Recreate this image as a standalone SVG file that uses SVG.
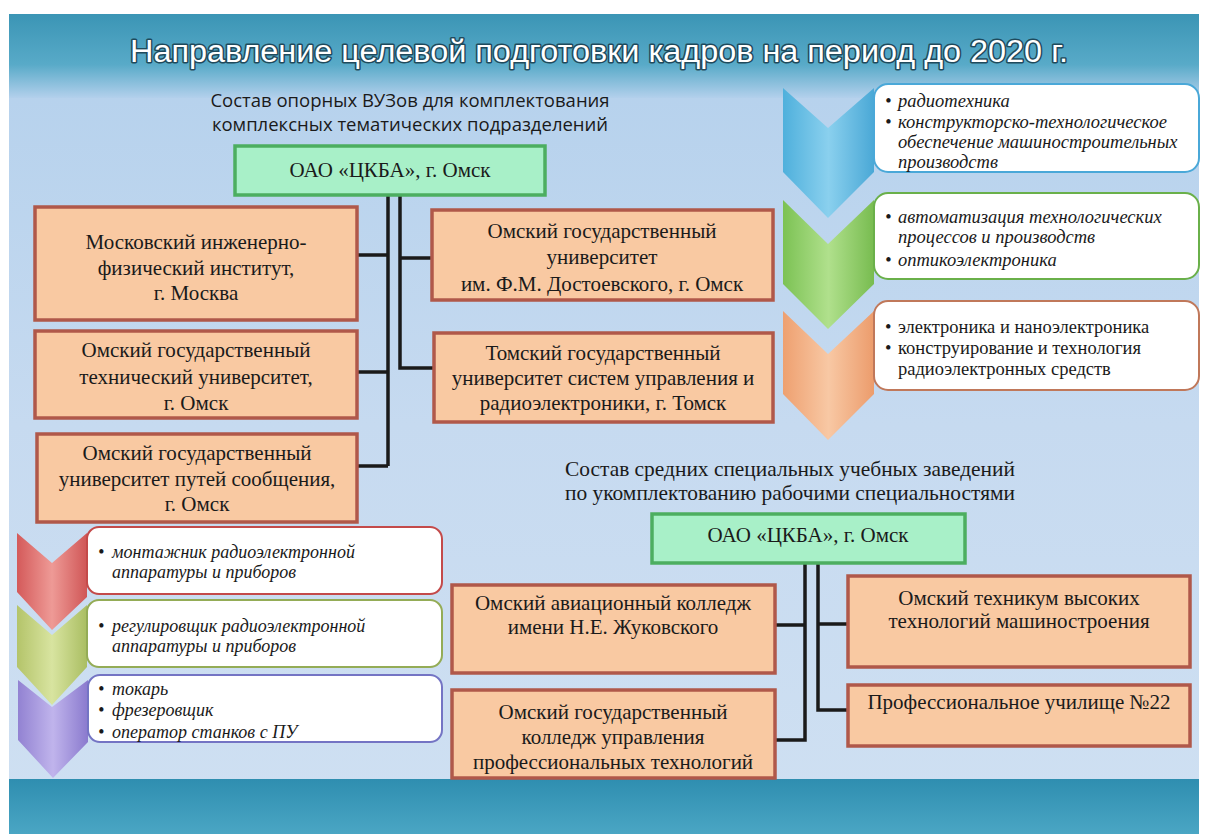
<svg xmlns="http://www.w3.org/2000/svg" width="1208" height="836" viewBox="0 0 1208 836">
<defs>
<linearGradient id="bg" x1="0" y1="0" x2="0" y2="1">
<stop offset="0" stop-color="#b3d0ec"/>
<stop offset="0.5" stop-color="#c6daf0"/>
<stop offset="1" stop-color="#cfe0f2"/>
</linearGradient>
<linearGradient id="top" x1="0" y1="0" x2="0" y2="1">
<stop offset="0" stop-color="#3b95b5"/>
<stop offset="0.6" stop-color="#58aac8"/>
<stop offset="1" stop-color="#b3d0ec"/>
</linearGradient>
<linearGradient id="bot" x1="0" y1="0" x2="0" y2="1">
<stop offset="0" stop-color="#2f8eb0"/>
<stop offset="1" stop-color="#4aa6c4"/>
</linearGradient>
<linearGradient id="cBlue" x1="0" y1="0" x2="1" y2="0"><stop offset="0" stop-color="#4fb0dc"/><stop offset="0.5" stop-color="#8ad0ee"/><stop offset="1" stop-color="#4aa8d6"/></linearGradient>
<linearGradient id="cGreen" x1="0" y1="0" x2="1" y2="0"><stop offset="0" stop-color="#7cc254"/><stop offset="0.5" stop-color="#b0e08c"/><stop offset="1" stop-color="#78bc50"/></linearGradient>
<linearGradient id="cOrange" x1="0" y1="0" x2="1" y2="0"><stop offset="0" stop-color="#eea070"/><stop offset="0.5" stop-color="#f8c8a4"/><stop offset="1" stop-color="#ec9c6c"/></linearGradient>
<linearGradient id="cRed" x1="0" y1="0" x2="1" y2="0"><stop offset="0" stop-color="#d45a5a"/><stop offset="0.5" stop-color="#ee9a96"/><stop offset="1" stop-color="#d05656"/></linearGradient>
<linearGradient id="cYel" x1="0" y1="0" x2="1" y2="0"><stop offset="0" stop-color="#b4c46a"/><stop offset="0.5" stop-color="#d8e4a0"/><stop offset="1" stop-color="#aabe62"/></linearGradient>
<linearGradient id="cPur" x1="0" y1="0" x2="1" y2="0"><stop offset="0" stop-color="#9282d2"/><stop offset="0.5" stop-color="#c0b4ec"/><stop offset="1" stop-color="#8a7ace"/></linearGradient>
</defs>
<style>
.org{fill:#f9c9a2;stroke:#b0584a;stroke-width:3.5}
.grn{fill:#a8f0c8;stroke:#4cae60;stroke-width:3.5}
.t{font-family:"Liberation Serif","Times New Roman",serif;font-size:21px;fill:#1a1a1a;text-anchor:middle}
.s{font-family:"Open Sans","Noto Sans",sans-serif;font-size:18.5px;fill:#1a1a1a;text-anchor:middle}
.it{font-family:"Liberation Serif",serif;font-style:italic;font-size:18.5px;fill:#1a1a1a}
.it2{font-family:"Liberation Serif",serif;font-style:italic;font-size:18px;fill:#1a1a1a}
.rm{font-family:"Liberation Serif",serif;font-size:18.5px;fill:#1a1a1a}
.card{fill:#ffffff;stroke-width:2}
.ln{stroke:#1a1a1a;stroke-width:3.5;fill:none}
.title{font-family:"Liberation Sans",Arial,sans-serif;font-size:31px;fill:#ffffff;stroke:#1f4a5c;stroke-width:3;paint-order:stroke;stroke-linejoin:round}
</style>
<rect x="0" y="0" width="1208" height="836" fill="#ffffff"/>
<rect x="9" y="14" width="1190" height="820" fill="url(#bg)"/>
<rect x="9" y="14" width="1190" height="84" fill="url(#top)"/>
<rect x="9" y="779" width="1190" height="55" fill="url(#bot)"/>
<text class="title" x="130" y="62" textLength="938" lengthAdjust="spacingAndGlyphs">Направление целевой подготовки кадров на период до 2020 г.</text>

<text class="s" x="410" y="107">Состав опорных ВУЗов для комплектования</text>
<text class="s" x="410" y="131">комплексных тематических подразделений</text>

<g id="connectors">
<path class="ln" d="M388,195 V466 M357,255 H388 M357,372 H388 M357,466 H388"/>
<path class="ln" d="M400,195 V368 H434 M400,258 H432"/>
<path class="ln" d="M805,563 V740 H775 M775,625 H805"/>
<path class="ln" d="M818,563 V710 H848 M818,624 H848"/>
</g>

<g id="n-ckba1"><rect class="grn" x="235" y="146" width="310" height="49"/><text class="t" x="390" y="177">ОАО «ЦКБА», г. Омск</text></g>
<g id="n-mifi"><rect class="org" x="35" y="207" width="322" height="113"/><text class="t" x="196" y="249">Московский инженерно-</text><text class="t" x="196" y="275">физический институт,</text><text class="t" x="196" y="300">г. Москва</text></g>
<g id="n-omgtu"><rect class="org" x="35" y="331" width="322" height="87"/><text class="t" x="196" y="357">Омский государственный</text><text class="t" x="196" y="384">технический университет,</text><text class="t" x="196" y="410">г. Омск</text></g>
<g id="n-omgups"><rect class="org" x="37" y="434" width="320" height="88"/><text class="t" x="197" y="460">Омский государственный</text><text class="t" x="197" y="486">университет путей сообщения,</text><text class="t" x="197" y="511">г. Омск</text></g>
<g id="n-omgu"><rect class="org" x="432" y="210" width="341" height="90"/><text class="t" x="602" y="238">Омский государственный</text><text class="t" x="602" y="264">университет</text><text class="t" x="602" y="291">им. Ф.М. Достоевского, г. Омск</text></g>
<g id="n-tusur"><rect class="org" x="434" y="333" width="339" height="89"/><text class="t" x="603" y="360">Томский государственный</text><text class="t" x="603" y="385">университет систем управления и</text><text class="t" x="603" y="410">радиоэлектроники, г. Томск</text></g>

<g id="n-dir3"><path d="M783,311 L828,354 L874,311 L874,394 L828,440 L783,394 Z" fill="url(#cOrange)"/><rect class="card" x="874" y="301" width="325" height="89" rx="14" stroke="#c0785a"/><text class="rm" x="885" y="333">•</text><text class="rm" x="898" y="333">электроника и наноэлектроника</text><text class="rm" x="885" y="354">•</text><text class="rm" x="898" y="354">конструирование и технология</text><text class="rm" x="898" y="375">радиоэлектронных средств</text></g>
<g id="n-dir2"><path d="M783,200 L828,244 L874,200 L874,284 L828,329 L783,284 Z" fill="url(#cGreen)"/><rect class="card" x="874" y="193" width="325" height="86" rx="14" stroke="#6ab04a"/><text class="it" x="885" y="223">•</text><text class="it" x="898" y="223">автоматизация технологических</text><text class="it" x="898" y="243">процессов и производств</text><text class="it" x="885" y="266">•</text><text class="it" x="898" y="266">оптикоэлектроника</text></g>
<g id="n-dir1"><path d="M783,88 L828,128 L874,88 L874,172 L828,218 L783,172 Z" fill="url(#cBlue)"/><rect class="card" x="874" y="84" width="325" height="88" rx="14" stroke="#4aa8d8"/><text class="it" x="885" y="107">•</text><text class="it" x="898" y="107">радиотехника</text><text class="it" x="885" y="128">•</text><text class="it" x="898" y="128">конструкторско-технологическое</text><text class="it" x="898" y="148">обеспечение машиностроительных</text><text class="it" x="898" y="168">производств</text></g>

<g id="n-prof3"><path d="M18,680 L52,707 L88,680 L88,742 L53,778 L18,740 Z" fill="url(#cPur)"/><rect class="card" x="88" y="675" width="354" height="67" rx="12" stroke="#7474c4"/><text class="it2" x="98" y="695">•</text><text class="it2" x="112" y="695">токарь</text><text class="it2" x="98" y="716">•</text><text class="it2" x="112" y="716">фрезеровщик</text><text class="it2" x="98" y="738">•</text><text class="it2" x="112" y="738">оператор станков с ПУ</text></g>
<g id="n-prof2"><path d="M17,605 L52,635 L87,605 L87,667 L52,705 L17,667 Z" fill="url(#cYel)"/><rect class="card" x="87" y="600" width="355" height="67" rx="12" stroke="#94ac56"/><text class="it2" x="98" y="632">•</text><text class="it2" x="112" y="632">регулировщик радиоэлектронной</text><text class="it2" x="112" y="652">аппаратуры и приборов</text></g>
<g id="n-prof1"><path d="M17,533 L52,563 L87,533 L87,597 L52,630 L17,592 Z" fill="url(#cRed)"/><rect class="card" x="87" y="527" width="355" height="67" rx="12" stroke="#c44a4a"/><text class="it2" x="98" y="558">•</text><text class="it2" x="112" y="558">монтажник радиоэлектронной</text><text class="it2" x="112" y="578">аппаратуры и приборов</text></g>

<text class="t" x="790" y="476" textLength="450" lengthAdjust="spacingAndGlyphs">Состав средних специальных учебных заведений</text>
<text class="t" x="790" y="500" textLength="450" lengthAdjust="spacingAndGlyphs">по укомплектованию рабочими специальностями</text>

<g id="n-ckba2"><rect class="grn" x="652" y="514" width="313" height="49"/><text class="t" x="808" y="542">ОАО «ЦКБА», г. Омск</text></g>
<g id="n-avia"><rect class="org" x="452" y="585" width="323" height="88"/><text class="t" x="613" y="610">Омский авиационный колледж</text><text class="t" x="613" y="634">имени Н.Е. Жуковского</text></g>
<g id="n-college"><rect class="org" x="452" y="690" width="323" height="88"/><text class="t" x="613" y="719">Омский государственный</text><text class="t" x="613" y="744">колледж управления</text><text class="t" x="613" y="769">профессиональных технологий</text></g>
<g id="n-tech"><rect class="org" x="848" y="576" width="342" height="91"/><text class="t" x="1019" y="605">Омский техникум высоких</text><text class="t" x="1019" y="628">технологий машиностроения</text></g>
<g id="n-pu22"><rect class="org" x="848" y="685" width="342" height="61"/><text class="t" x="1019" y="709">Профессиональное училище №22</text></g>
</svg>
